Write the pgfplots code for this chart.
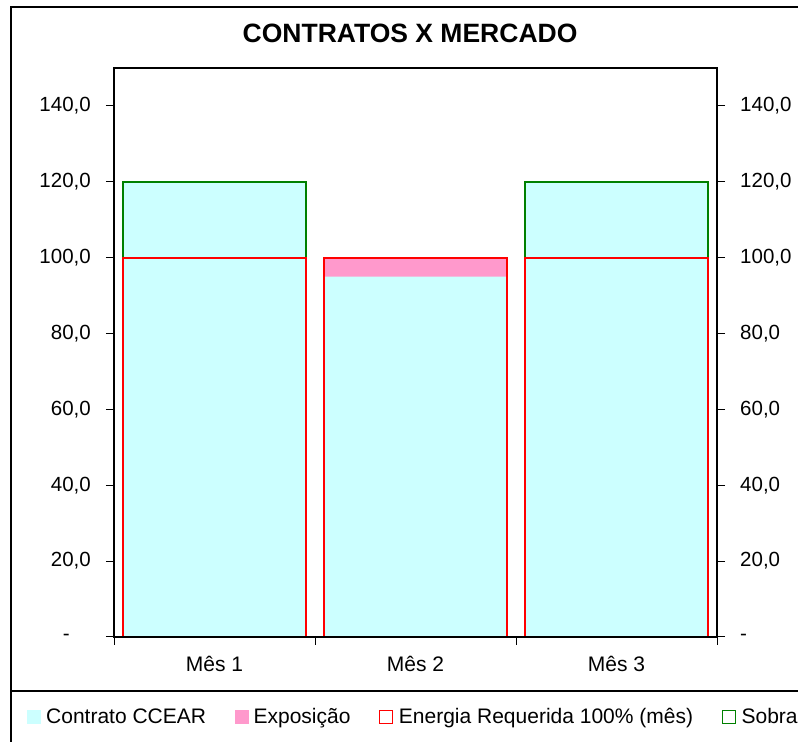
\documentclass[border=0pt]{standalone}
\usepackage{pgfplots}
\pgfplotsset{compat=1.18}
\usepackage{fontspec}
\setmainfont{Liberation Sans}
\definecolor{cyanc}{HTML}{CCFFFF}
\definecolor{pinkc}{HTML}{FF99CC}
\definecolor{redc}{HTML}{FF0000}
\definecolor{greenc}{HTML}{008000}
\pgfplotsset{common/.style={
  scale only axis, width=603bp, height=569bp,
  at={(114bp,105bp)}, anchor=south west,
  xmin=0.5, xmax=3.5, ymin=0, ymax=150,
  ytick={0,20,...,140},
  tick align=outside, major tick length=8bp,
  /pgf/number format/assume math mode=true,
  axis line style={line width=1.2bp},
  every tick/.style={line width=1bp, black},
}}
\begin{document}
\begin{tikzpicture}[font=\fontsize{21bp}{25bp}\selectfont]
\useasboundingbox (0,0) rectangle (798bp,742bp);
\clip (0,0) rectangle (798bp,742bp);
\begin{axis}[common,
  ybar, bar width=0.91,
  axis on top,
  xtick={1,2,3}, xticklabels={Mês 1,Mês 2,Mês 3},
  major x tick style={draw=none},
  minor xtick={0.5,1.5,2.5,3.5}, minor tick length=8bp,
  xtick pos=bottom, ytick pos=left,
  yticklabels={{-\hspace*{21bp}},{20,0},{40,0},{60,0},{80,0},{100,0},{120,0},{140,0}},
  yticklabel style={inner sep=0pt, xshift=-15bp, font=\fontsize{20.5bp}{24bp}\selectfont},
  xticklabel style={inner sep=0pt, yshift=-11bp},
  title={\bfseries CONTRATOS X MERCADO},
  title style={at={(0.491,1.051)}, anchor=center, font=\fontsize{26.5bp}{30bp}\selectfont\bfseries},
  legend columns=4,
  legend style={at={(-0.1443,-0.1406)}, anchor=west, draw=none, fill=none, inner sep=0pt,
    nodes={inner sep=2.5bp},
    /tikz/every odd column/.append style={column sep=3bp},
    /tikz/every even column/.append style={column sep=26bp}},
  legend image code/.code={\path[#1] (0bp,-6.5bp) rectangle (13bp,6.5bp);},
]
\addlegendimage{fill=cyanc, draw=cyanc, line width=0.5bp}
\addlegendentry{Contrato CCEAR}
\addlegendimage{fill=pinkc, draw=pinkc, line width=0.5bp}
\addlegendentry{Exposição}
\addlegendimage{fill=none, draw=redc, line width=1.5bp}
\addlegendentry{Energia Requerida 100\% (mês)}
\addlegendimage{fill=none, draw=greenc, line width=1.5bp}
\addlegendentry{Sobra}
\addplot[fill=pinkc, draw=none, bar shift=0pt, forget plot] coordinates {(2,100)};
\addplot[fill=cyanc, draw=none, bar shift=0pt, forget plot] coordinates {(1,120) (2,95) (3,120)};
\addplot[fill=none, draw=greenc, line width=2bp, bar shift=0pt, forget plot] coordinates {(1,120) (3,120)};
\addplot[fill=none, draw=redc, line width=2bp, bar shift=0pt, forget plot] coordinates {(1,100) (2,100) (3,100)};
\end{axis}
\begin{axis}[common,
  axis y line*=right, axis x line=none,
  yticklabels={{-},{20,0},{40,0},{60,0},{80,0},{100,0},{120,0},{140,0}},
  yticklabel style={inner sep=0pt, xshift=15bp, font=\fontsize{20.5bp}{24bp}\selectfont},
]
\addplot[draw=none, forget plot] coordinates {(1,0)};
\end{axis}
\draw[line width=1.2bp] (11bp,0) -- (11bp,735bp) -- (798bp,735bp);
\draw[line width=1.2bp] (11bp,51bp) -- (798bp,51bp);
\end{tikzpicture}
\end{document}
